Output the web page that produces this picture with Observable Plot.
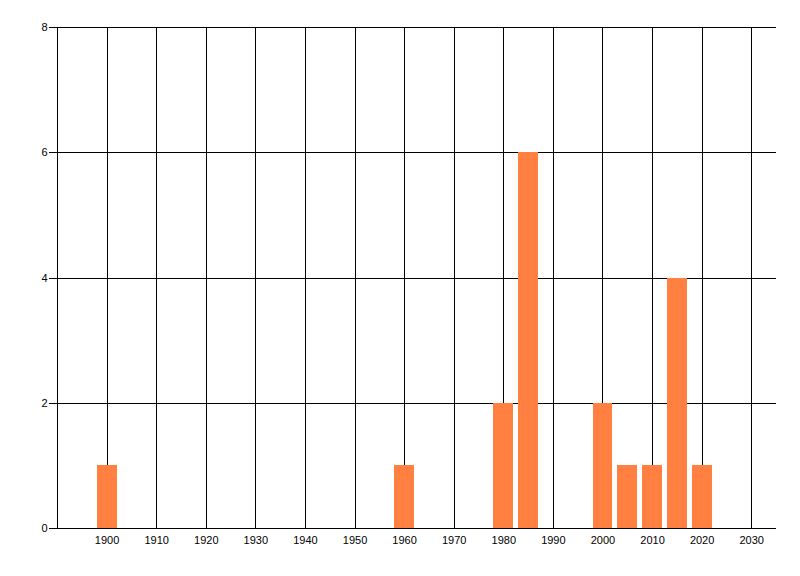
<!DOCTYPE html>
<html>
<head>
<meta charset="utf-8">
<script src="https://cdn.jsdelivr.net/npm/d3@7"></script>
<script src="https://cdn.jsdelivr.net/npm/@observablehq/plot@0.6"></script>
<style>
  html, body { margin: 0; padding: 0; background: #fff; }
  #chart svg { display: block; }
  #chart svg line, #chart svg path, #chart svg rect { shape-rendering: crispEdges; }
</style>
</head>
<body>
<div id="chart"></div>
<script>
const years = [1900, 1960, 1980, 1985, 2000, 2005, 2010, 2015, 2020];
const counts = [1, 1, 2, 6, 2, 1, 1, 4, 1];
const xTicks = [1900, 1910, 1920, 1930, 1940, 1950, 1960, 1970, 1980, 1990, 2000, 2010, 2020, 2030];
const yTicks = [0, 2, 4, 6, 8];
const xDomain = [1890, 2035];
const yDomain = [0, 8];
const barHalfWidth = 2;

const data = years.map((y, i) => ({year: y, count: counts[i]}));

const chart = Plot.plot({
  width: 800,
  height: 576,
  marginLeft: 57,
  marginTop: 27,
  marginRight: 24,
  marginBottom: 48,
  style: {fontFamily: "'Liberation Sans', Arial, sans-serif", fontSize: "11px", background: "#fff", color: "#000"},
  x: {domain: xDomain, ticks: xTicks, tickFormat: d => String(d), tickSize: 0, tickPadding: 8, label: null},
  y: {domain: yDomain, ticks: yTicks, tickSize: 8, tickPadding: 2, label: null},
  marks: [
    Plot.ruleX(xTicks, {stroke: "#000", strokeWidth: 1, strokeOpacity: 1}),
    Plot.ruleX([xDomain[0]], {stroke: "#000", strokeWidth: 1, strokeOpacity: 1}),
    Plot.ruleY(yTicks, {stroke: "#000", strokeWidth: 1, strokeOpacity: 1}),
    Plot.rectY(data, {x1: d => d.year - barHalfWidth, x2: d => d.year + barHalfWidth, y: "count", fill: "#ff8040", insetLeft: 0, insetRight: 0}),
    Plot.axisX({ticks: xTicks, tickFormat: d => String(d), tickSize: 0, tickPadding: 8, label: null}),
    Plot.axisY({ticks: yTicks, tickSize: 8, tickPadding: 2, label: null, stroke: "#000", strokeOpacity: 1})
  ]
});
document.getElementById("chart").appendChild(chart);
</script>
</body>
</html>
